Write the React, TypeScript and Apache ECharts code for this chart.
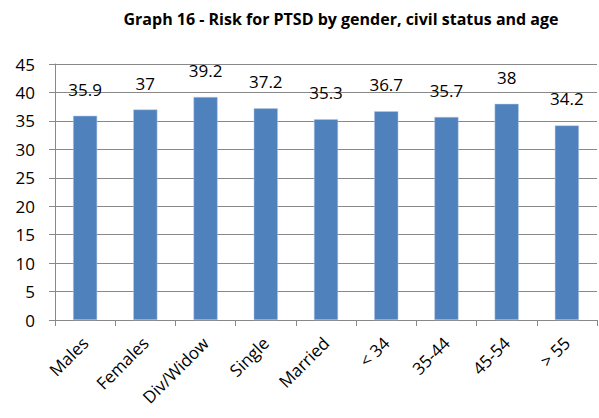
import React, { useEffect, useRef } from "react";
import * as echarts from "echarts";

const categories = ["Males", "Females", "Div/Widow", "Single", "Married", "< 34", "35-44", "45-54", "> 55"];
const values = [35.9, 37, 39.2, 37.2, 35.3, 36.7, 35.7, 38, 34.2];
const titleText = "Graph 16 - Risk for PTSD by gender, civil status and age";

export default function App() {
  const ref = useRef<HTMLDivElement>(null);
  useEffect(() => {
    if (!ref.current) return;
    const chart = echarts.init(ref.current, null, { renderer: "svg" });
    const font = "Open Sans";
    chart.setOption({
      animation: false,
      backgroundColor: "#ffffff",
      title: {
        text: titleText,
        left: 336,
        textAlign: "center",
        top: 6,
        textStyle: { fontFamily: font, fontWeight: "bold", fontSize: 16, color: "#000" },
      },
      grid: { left: 55, right: 2, top: 64, bottom: 98, containLabel: false },
      xAxis: {
        type: "category",
        data: categories,
        axisLine: { lineStyle: { color: "#888888", width: 1 } },
        axisTick: { show: true, length: 6, lineStyle: { color: "#888888" } },
        axisLabel: {
          rotate: 45,
          interval: 0,
          margin: 20,
          fontFamily: font,
          fontSize: 17,
          color: "#000",
        },
      },
      yAxis: {
        type: "value",
        min: 0,
        max: 45,
        interval: 5,
        axisLine: { show: true, lineStyle: { color: "#888888" } },
        axisTick: { show: true, length: 6, lineStyle: { color: "#888888" } },
        splitLine: { lineStyle: { color: "#888888", width: 1 } },
        axisLabel: { fontFamily: font, fontSize: 17, color: "#000", margin: 20 },
      },
      series: [
        {
          type: "bar",
          data: values,
          barWidth: "40%",
          itemStyle: { color: "#4F81BD", borderColor: "#B9CDE5", borderWidth: 0.5 },
          label: {
            show: true,
            position: "top",
            distance: 18,
            fontFamily: font,
            fontSize: 17,
            color: "#000",
          },
        },
      ],
    });
    return () => chart.dispose();
  }, []);
  return (
    <div
      ref={ref}
      style={{ position: "fixed", left: 0, top: 0, width: 599, height: 418 }}
    />
  );
}
